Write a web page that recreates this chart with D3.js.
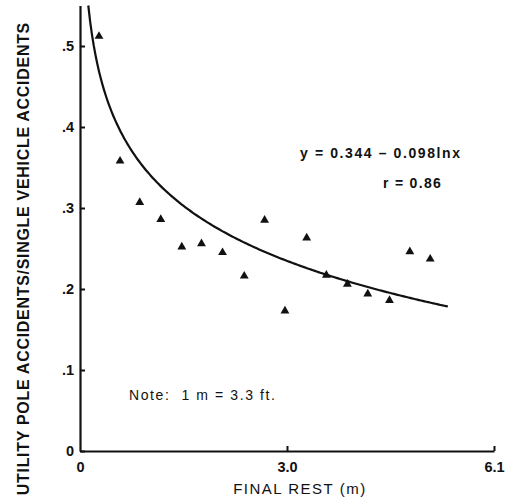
<!DOCTYPE html>
<html>
<head>
<meta charset="utf-8">
<script src="https://cdn.jsdelivr.net/npm/d3@7"></script>
<style>
  html, body { margin: 0; padding: 0; background: #fff; }
  svg { display: block; }
  text { font-family: "Liberation Sans", Arial, Helvetica, sans-serif; fill: #111; }
</style>
</head>
<body>
<svg id="chart" width="509" height="502"></svg>
<script>
// Final rest distance (m) and the share of single-vehicle accidents that hit a utility pole
const finalRest = [0.28, 0.59, 0.88, 1.19, 1.50, 1.79, 2.10, 2.42, 2.72, 3.02, 3.34, 3.63, 3.94, 4.24, 4.56, 4.86, 5.16];
const poleShare = [0.512, 0.358, 0.307, 0.286, 0.252, 0.256, 0.245, 0.216, 0.285, 0.173, 0.263, 0.217, 0.206, 0.194, 0.186, 0.246, 0.237];

// Logarithmic fit printed on the chart: y = a - b ln x
const fitA = 0.344;
const fitB = 0.098;
const fitEndX = 5.42;

const xTickValues = [0, 3.05, 6.1];
const xTickLabels = ["0", "3.0", "6.1"];
const yTickValues = [0, 0.1, 0.2, 0.3, 0.4, 0.5];
const yTickLabels = ["0", ".1", ".2", ".3", ".4", ".5"];

const svg = d3.select("#chart");

const x = d3.scaleLinear().domain([0, 6.1]).range([80, 494]);
const y = d3.scaleLinear().domain([0, 0.55]).range([451, 5.5]);

// Axes
const xAxis = d3.axisBottom(x)
  .tickValues(xTickValues)
  .tickFormat((d, i) => xTickLabels[i])
  .tickSizeInner(-5)
  .tickSizeOuter(0)
  .tickPadding(11);

const yAxis = d3.axisLeft(y)
  .tickValues(yTickValues)
  .tickFormat((d, i) => yTickLabels[i])
  .tickSizeInner(-5)
  .tickSizeOuter(0)
  .tickPadding(6);

const gx = svg.append("g").attr("transform", `translate(0,${y(0)})`).call(xAxis);
const gy = svg.append("g").attr("transform", `translate(${x(0)},0)`).call(yAxis);

[gx, gy].forEach(g => {
  g.select(".domain").attr("stroke", "#111").attr("stroke-width", 2.2);
  g.selectAll(".tick line").attr("stroke", "#111").attr("stroke-width", 2);
  g.selectAll(".tick text")
    .attr("font-family", "'Liberation Sans', Arial, sans-serif")
    .attr("font-size", 14.5)
    .attr("font-weight", "bold")
    .attr("fill", "#111");
});
gx.selectAll(".tick").filter(d => d === 0).select("line").remove();

// Axis titles
svg.append("text")
  .attr("x", x(3.24))
  .attr("y", 494)
  .attr("text-anchor", "middle")
  .attr("font-size", 15)
  .attr("letter-spacing", 1.5)
  .text("FINAL REST (m)");

svg.append("text")
  .attr("transform", "translate(29,22) rotate(-90)")
  .attr("text-anchor", "end")
  .attr("font-size", 16)
  .attr("font-weight", "bold")
  .attr("letter-spacing", 0.7)
  .text("UTILITY POLE ACCIDENTS/SINGLE VEHICLE ACCIDENTS");

// Fitted curve, clipped at the top of the value axis
const xStart = Math.exp((fitA - y.domain()[1]) / fitB);
const curveX = d3.range(0, 201).map(i => xStart + (fitEndX - xStart) * i / 200);
const line = d3.line()
  .x(d => x(d))
  .y(d => y(fitA - fitB * Math.log(d)))
  .curve(d3.curveLinear);

svg.append("path")
  .datum(curveX)
  .attr("d", line)
  .attr("fill", "none")
  .attr("stroke", "#111")
  .attr("stroke-width", 2.2);

// Observed points
const tri = d3.symbol().type(d3.symbolTriangle).size(34);
svg.append("g")
  .selectAll("path")
  .data(finalRest)
  .join("path")
  .attr("transform", (d, i) => `translate(${x(d)},${y(poleShare[i])})`)
  .attr("d", tri)
  .attr("fill", "#111");

// Equation and correlation
svg.append("text")
  .attr("x", 300)
  .attr("y", 158)
  .attr("font-size", 14)
  .attr("font-weight", "bold")
  .attr("letter-spacing", 1.6)
  .text("y = 0.344 \u2013 0.098lnx");

svg.append("text")
  .attr("x", 383)
  .attr("y", 188)
  .attr("font-size", 14)
  .attr("font-weight", "bold")
  .attr("letter-spacing", 1.3)
  .text("r = 0.86");

// Unit note
svg.append("text")
  .attr("x", 129)
  .attr("y", 400)
  .attr("font-size", 14)
  .attr("letter-spacing", 1.6)
  .style("white-space", "pre")
  .text("Note:  1 m = 3.3 ft.");
</script>
</body>
</html>
